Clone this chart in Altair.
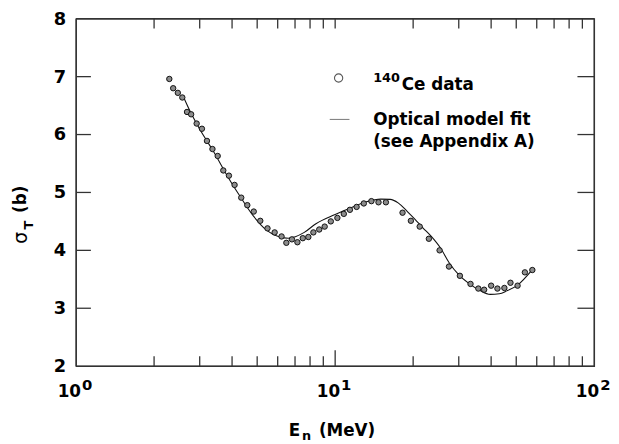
import math
import altair as alt
import pandas as pd

# ---- data ----
energy = [2.29, 2.37, 2.47, 2.57, 2.68, 2.78, 2.92, 3.06, 3.20, 3.36,
          3.52, 3.70, 3.89, 4.09, 4.34, 4.58, 4.85, 5.14, 5.48, 5.84,
          6.21, 6.48, 6.81, 7.15, 7.50, 7.88, 8.24, 8.68, 9.11, 9.62,
          10.2, 10.8, 11.4, 12.1, 12.9, 13.8, 14.7, 15.7, 18.2, 19.6,
          21.2, 23.0, 25.3, 27.5, 30.3, 33.3, 35.7, 37.6, 40.0, 42.3,
          45.0, 47.5, 50.6, 54.0, 57.7]
sigma = [6.96, 6.80, 6.72, 6.64, 6.39, 6.35, 6.19, 6.10, 5.89, 5.75,
         5.63, 5.38, 5.29, 5.13, 4.91, 4.78, 4.67, 4.51, 4.38, 4.31,
         4.24, 4.13, 4.19, 4.14, 4.21, 4.23, 4.31, 4.36, 4.41, 4.50,
         4.56, 4.63, 4.70, 4.75, 4.81, 4.85, 4.83, 4.83, 4.65, 4.51,
         4.41, 4.20, 4.00, 3.72, 3.56, 3.42, 3.34, 3.32, 3.39, 3.34,
         3.35, 3.44, 3.39, 3.62, 3.66]

fit_energy = [2.58, 2.77, 3.03, 3.41, 3.83, 4.30, 4.84, 5.43, 6.11, 6.6,
              7.6, 8.43, 10.0, 11.3, 13.2, 15.0, 16.3, 17.5, 19.0, 20.3,
              21.8, 23.5, 25.5, 27.5, 30.1, 33.0, 36.1, 39.7, 43.0, 46.0,
              50.3, 58.0]
fit_sigma = [6.68, 6.38, 6.06, 5.69, 5.29, 4.93, 4.59, 4.35, 4.23, 4.21,
             4.31, 4.46, 4.62, 4.72, 4.84, 4.885, 4.88, 4.82, 4.67, 4.54,
             4.39, 4.24, 4.04, 3.79, 3.57, 3.42, 3.31, 3.24, 3.25, 3.30,
             3.39, 3.68]

y_tick_values = [2, 3, 4, 5, 6, 7, 8]
y_inner_ticks = [3, 4, 5, 6, 7]
x_minor_ticks = [2, 3, 4, 5, 6, 7, 8, 9, 20, 30, 40, 50, 60, 70, 80, 90]
x_major_ticks = [10]
x_decades = [1, 10, 100]
x_exponents = ["0", "1", "2"]

legend_points_label = "Ce data"
legend_points_super = "140"
legend_line_label_1 = "Optical model fit"
legend_line_label_2 = "(see Appendix A)"

# ---- layout ----
W, H = 525, 352
FONT = "DejaVu Sans"
LINE_C = "#333333"
X_MIN, X_MAX, Y_MIN, Y_MAX = 1, 100, 2, 8
xs = alt.Scale(type="log", domain=[X_MIN, X_MAX], nice=False)
ys = alt.Scale(domain=[Y_MIN, Y_MAX], nice=False, zero=False)


def xpix(v):   # same mapping as the log x scale
    return W * (math.log10(v) - math.log10(X_MIN)) / (math.log10(X_MAX) - math.log10(X_MIN))


def ypix(v):   # same mapping as the linear y scale
    return H * (Y_MAX - v) / (Y_MAX - Y_MIN)


def X(f):
    return alt.X(f, type="quantitative", scale=xs, axis=None)


def Y(f):
    return alt.Y(f, type="quantitative", scale=ys, axis=None)


ONE = pd.DataFrame({"a": [0]})

points = alt.Chart(pd.DataFrame({"E": energy, "s": sigma})).mark_point(
    shape="circle", size=30, filled=True, fill="#8c8c8c", stroke="#111111",
    strokeWidth=1, opacity=1
).encode(x=X("E"), y=Y("s"))

fit = alt.Chart(pd.DataFrame({"E": fit_energy, "s": fit_sigma})).mark_line(
    color="#111111", strokeWidth=1.1, interpolate="monotone"
).encode(x=X("E"), y=Y("s"))


def seg(x1, x2, y1, y2, w=1.3):
    enc = dict(x=alt.value(x1), y=alt.value(y1))
    if x2 != x1:
        enc["x2"] = alt.value(x2)
    if y2 != y1:
        enc["y2"] = alt.value(y2)
    return alt.Chart(ONE).mark_rule(color=LINE_C, strokeWidth=w).encode(**enc)


deco = []
# frame
deco += [seg(0, W, 0, 0), seg(0, W, H, H), seg(0, 0, 0, H), seg(W, W, 0, H)]
# bottom / top ticks
for v in x_minor_ticks:
    p = xpix(v)
    deco += [seg(p, p, H, H - 10), seg(p, p, 0, 10)]
for v in x_major_ticks:
    p = xpix(v)
    deco += [seg(p, p, H, H - 16), seg(p, p, 0, 10)]
# left / right ticks
for v in y_inner_ticks:
    q = ypix(v)
    deco += [seg(0, 15, q, q), seg(W, W - 17, q, q)]

# tick labels
ylab = alt.Chart(pd.DataFrame({"v": y_tick_values})).mark_text(
    font=FONT, fontSize=18, fontWeight="bold", align="right", baseline="middle",
    dx=-10, dy=1, color="black"
).encode(y=Y("v"), x=alt.value(0), text="v:Q")

dec_df = pd.DataFrame({"v": x_decades, "e": x_exponents, "t": ["10"] * 3})
xlab = alt.Chart(dec_df).mark_text(
    font=FONT, fontSize=17, fontWeight="bold", align="right", baseline="alphabetic",
    dx=5, color="black"
).encode(x=X("v"), y=alt.value(H + 31), text="t:N")
xexp = alt.Chart(dec_df).mark_text(
    font=FONT, fontSize=15, fontWeight="bold", align="left", baseline="alphabetic",
    dx=6, color="black"
).encode(x=X("v"), y=alt.value(H + 24), text="e:N")


def txt(s, x, y, size, weight="bold", align="left", angle=0, baseline="alphabetic"):
    kw = dict(font=FONT, fontSize=size, fontWeight=weight, align=align,
              baseline=baseline, color="black")
    if angle:
        kw["angle"] = angle
    return alt.Chart(pd.DataFrame({"t": [s]})).mark_text(**kw).encode(
        x=alt.value(x), y=alt.value(y), text="t:N")


# axis titles
xt1 = txt("E", 227, H + 71, 17, align="right")
xt2 = txt("n", 229, H + 75, 13)
xt3 = txt("(MeV)", 246, H + 71, 17)

yt1 = txt("σ", -50, 222, 19, weight="normal", align="center", angle=270)
yt2 = txt("T", -44, 209, 13, align="center", angle=270)
yt3 = txt("(b)", -51, 183, 17, align="center", angle=270)

# legend
leg_circle = alt.Chart(ONE).mark_point(
    shape="circle", size=70, filled=False, stroke="#111111", strokeWidth=1.1
).encode(x=alt.value(266), y=alt.value(60))
leg_line = alt.Chart(ONE).mark_rule(
    color="#777777", strokeWidth=1
).encode(x=alt.value(257), x2=alt.value(277), y=alt.value(102))
lt1 = txt(legend_points_super, 301, 64, 13)
lt2 = txt(legend_points_label, 330, 72, 17)
lt3 = txt(legend_line_label_1, 301, 108, 17)
lt4 = txt(legend_line_label_2, 301, 130, 17)

# decorations (frame and ticks) placed after all text layers
chart = alt.layer(
    fit, points,
    ylab, xlab, xexp, xt1, xt2, xt3, yt1, yt2, yt3,
    leg_circle, lt1, lt2, lt3, lt4, leg_line,
    *deco
).properties(
    width=W, height=H,
    autosize=alt.AutoSizeParams(type="none"),
    padding={"left": 69, "top": 8, "right": 17, "bottom": 76},
    background="white"
).configure_view(stroke=LINE_C, strokeWidth=1.3)

chart.save("out.html", embed_options={"renderer": "svg", "actions": False})
